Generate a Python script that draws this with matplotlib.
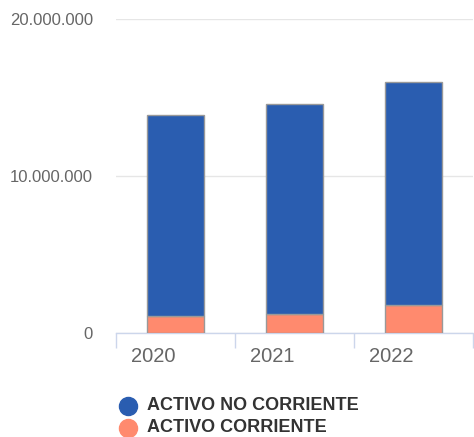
import matplotlib
matplotlib.use("Agg")
import matplotlib.pyplot as plt
from matplotlib.lines import Line2D
from matplotlib.ticker import FuncFormatter
import numpy as np

plt.rcParams['font.family'] = ['Liberation Sans', 'DejaVu Sans']

years = ["2020", "2021", "2022"]
activo_corriente = [1100000, 1190000, 1780000]
activo_no_corriente = [12790000, 13380000, 14180000]
series_names = ["ACTIVO NO CORRIENTE", "ACTIVO CORRIENTE"]
y_ticks = [0, 10000000, 20000000]

c_blue = "#2a5db0"
c_orange = "#ff8a6e"
colors = [c_blue, c_orange]

W, H = 474, 437
fig = plt.figure(figsize=(W / 100, H / 100), dpi=100)
ax = fig.add_axes([116 / W, 1 - 333 / H, 356.7 / W, 314 / H])

x = np.arange(len(years))
w = 0.48
ax.bar(x, activo_corriente, width=w, color=c_orange, edgecolor="#999999", linewidth=1, zorder=3)
ax.bar(x, activo_no_corriente, width=w, bottom=activo_corriente, color=c_blue,
       edgecolor="#999999", linewidth=1, zorder=3)

ax.set_xlim(-0.5, len(years) - 0.5)
ax.set_ylim(0, 20000000)
ax.set_yticks(y_ticks)
ax.yaxis.set_major_formatter(FuncFormatter(lambda v, p: f"{int(v):,}".replace(",", ".")))
ax.grid(axis="y", color="#e6e6e6", linewidth=1, zorder=0)
ax.tick_params(axis="y", length=0, pad=16.5, labelsize=12, labelcolor="#666666")

ax.set_xticks(x - 0.186)
ax.set_xticklabels(years)
ax.set_xticks(np.arange(-0.5, len(years)), minor=True)
ax.tick_params(axis="x", which="major", length=0, pad=10, labelsize=14.5, labelcolor="#666666")
ax.tick_params(axis="x", which="minor", length=11, width=1, color="#ccd6eb")

for s in ["top", "right", "left"]:
    ax.spines[s].set_visible(False)
ax.spines["bottom"].set_color("#ccd6eb")
ax.spines["bottom"].set_linewidth(1)

# legend
rows_y = [406, 427.7]
for name, col, yy in zip(series_names, colors, rows_y):
    fig.add_artist(Line2D([127.5 / W], [1 - yy / H], transform=fig.transFigure,
                          marker="o", linestyle="", markersize=13, color=col))
    fig.text(147.3 / W, 1 - yy / H, name, ha="left", va="center", fontsize=13,
             fontweight="bold", color="#333333")

fig.savefig("out.png", dpi=100)
